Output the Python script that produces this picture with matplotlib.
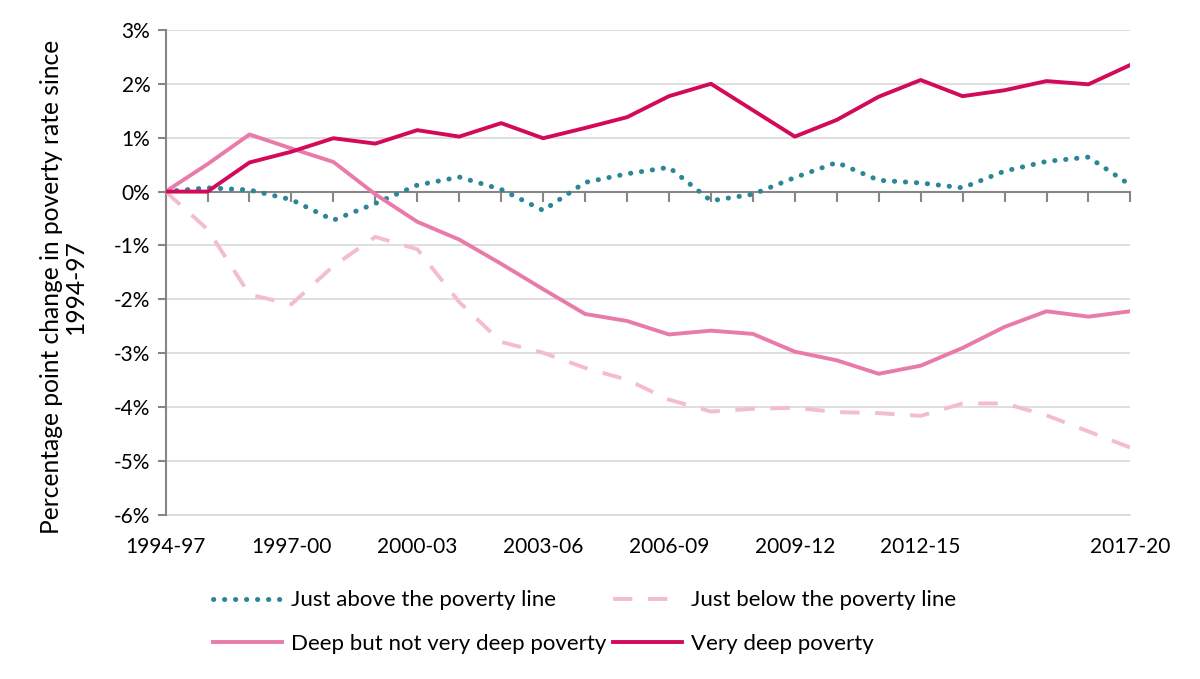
import matplotlib

matplotlib.use("Agg")
import matplotlib.pyplot as plt

# periods (3-year rolling averages)
periods = [
    "1994-97", "1995-98", "1996-99", "1997-00", "1998-01", "1999-02",
    "2000-03", "2001-04", "2002-05", "2003-06", "2004-07", "2005-08",
    "2006-09", "2007-10", "2008-11", "2009-12", "2010-13", "2011-14",
    "2012-15", "2013-16", "2014-17", "2015-18", "2016-19", "2017-20",
]
shown_labels = ["1994-97", "1997-00", "2000-03", "2003-06", "2006-09",
                "2009-12", "2012-15", "2017-20"]

# percentage point change since 1994-97
just_above = [0.0, 0.07, 0.03, -0.15, -0.53, -0.22, 0.12, 0.27, 0.04, -0.35,
              0.17, 0.33, 0.45, -0.17, -0.05, 0.26, 0.54, 0.21, 0.16, 0.07,
              0.38, 0.56, 0.64, 0.12]
just_below = [0.0, -0.70, -1.91, -2.09, -1.38, -0.84, -1.07, -2.05, -2.79,
              -2.99, -3.27, -3.49, -3.86, -4.08, -4.03, -4.01, -4.09, -4.11,
              -4.16, -3.93, -3.93, -4.15, -4.45, -4.75]
deep = [0.0, 0.51, 1.06, 0.80, 0.55, -0.05, -0.56, -0.89, -1.34, -1.81,
        -2.27, -2.40, -2.65, -2.58, -2.64, -2.97, -3.13, -3.38, -3.23, -2.90,
        -2.51, -2.22, -2.32, -2.22]
very_deep = [0.0, 0.0, 0.54, 0.74, 0.99, 0.89, 1.14, 1.02, 1.27, 0.99, 1.18,
             1.38, 1.77, 2.00, 1.51, 1.02, 1.33, 1.76, 2.07, 1.77, 1.88, 2.05,
             1.99, 2.35]

y_ticks = [3, 2, 1, 0, -1, -2, -3, -4, -5, -6]
y_tick_labels = ["3%", "2%", "1%", "0%", "-1%", "-2%", "-3%", "-4%", "-5%", "-6%"]

plt.rcParams["font.family"] = ["Lato", "DejaVu Sans"]

fig = plt.figure(figsize=(12, 6.79), dpi=100)
ax = fig.add_axes([0.138, 0.2415, 0.804, 0.7145])

x = list(range(len(periods)))
l_above, = ax.plot(x, just_above, color="#2b8797", linewidth=3.6, linestyle=(0, (0.05, 2.15)),
                   dash_capstyle="round", label="Just above the poverty line", zorder=3)
l_below, = ax.plot(x, just_below, color="#f4bcd3", linewidth=2.8, linestyle=(0, (5, 4)),
                   label="Just below the poverty line", zorder=3)
l_deep, = ax.plot(x, deep, color="#e87ba9", linewidth=2.8,
                  label="Deep but not very deep poverty", zorder=4)
l_vdeep, = ax.plot(x, very_deep, color="#d20a59", linewidth=2.8,
                   label="Very deep poverty", zorder=5)

ax.set_xlim(0, len(periods) - 1)
ax.set_ylim(-6, 3)
ax.set_yticks(y_ticks)
ax.set_yticklabels(y_tick_labels, fontsize=15)
ax.grid(axis="y", color="#d9d9d9", linewidth=1.2)
ax.set_axisbelow(True)

for side in ("top", "right"):
    ax.spines[side].set_visible(False)
ax.spines["left"].set_color("#868686")
ax.spines["left"].set_linewidth(1.5)
ax.spines["bottom"].set_position(("data", 0))
ax.spines["bottom"].set_color("#868686")
ax.spines["bottom"].set_linewidth(1.5)
ax.tick_params(axis="y", colors="#868686", length=6, width=1.5, labelcolor="black", pad=5)
ax.set_xticks(x)
ax.tick_params(axis="x", colors="#868686", length=7, width=1.5, labelbottom=False)

sec = ax.secondary_xaxis("bottom")
sec.set_xticks([periods.index(p) for p in shown_labels])
sec.set_xticklabels(shown_labels, fontsize=15)
sec.tick_params(length=0, pad=16)
sec.spines["bottom"].set_color("#d9d9d9")
sec.spines["bottom"].set_linewidth(1.2)

ax.set_ylabel("Percentage point change in poverty rate since\n1994-97", fontsize=17.7,
              linespacing=1.0)
ax.yaxis.set_label_coords(-0.082, 0.47)

# row-wise order: matplotlib fills legend columns first
fig.legend(handles=[l_above, l_deep, l_below, l_vdeep], loc="upper center",
           bbox_to_anchor=(0.487, 0.16), ncol=2, frameon=False,
           fontsize=16, handlelength=3.1, columnspacing=0.3, handletextpad=0.4,
           labelspacing=1.05)

fig.savefig("out.png", dpi=100)
